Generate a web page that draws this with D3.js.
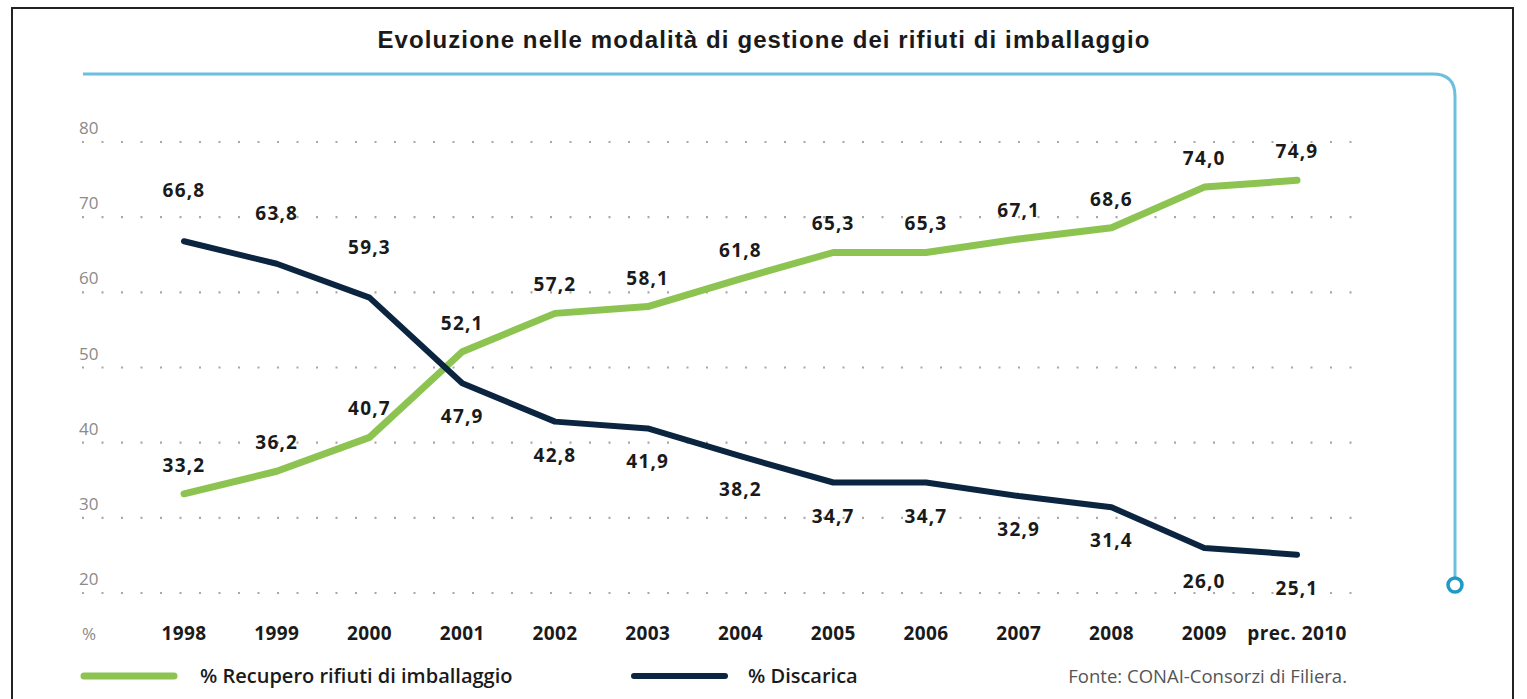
<!DOCTYPE html>
<html>
<head>
<meta charset="utf-8">
<script src="https://cdn.jsdelivr.net/npm/d3@7"></script>
<style>
  body { margin: 0; background: #fff; }
  #chart { width: 1527px; height: 699px; }
  .yTick { font-family: "Open Sans", sans-serif; font-size: 17px; fill: #8a8a8a; }
  .xTick { font-family: "Open Sans", sans-serif; font-size: 19px; font-weight: 700; fill: #1a1a1a; letter-spacing: 0.4px; }
  .valLabel { font-family: "Open Sans", sans-serif; font-size: 19px; font-weight: 700; fill: #1a1a1a; letter-spacing: 1.2px; }
  .legendText { font-family: "Open Sans", sans-serif; font-size: 20px; font-weight: 600; fill: #1a1a1a; }
</style>
</head>
<body>
<div id="chart"></div>
<script>
// data
var years = ["1998", "1999", "2000", "2001", "2002", "2003", "2004", "2005", "2006", "2007", "2008", "2009", "prec. 2010"];
var recupero = [33.2, 36.2, 40.7, 52.1, 57.2, 58.1, 61.8, 65.3, 65.3, 67.1, 68.6, 74.0, 74.9];
var discarica = [66.8, 63.8, 59.3, 47.9, 42.8, 41.9, 38.2, 34.7, 34.7, 32.9, 31.4, 26.0, 25.1];
var yTicks = [20, 30, 40, 50, 60, 70, 80];
var seriesNames = ["% Recupero rifiuti di imballaggio", "% Discarica"];

var fmt = function(v) { return d3.format(".1f")(v).replace(".", ","); };

makePlot();

function makePlot() {
    var svgWidth = 1527;
    var svgHeight = 699;

    var svg = d3.select("#chart")
        .append("svg")
        .attr("width", svgWidth)
        .attr("height", svgHeight);

    // outer frame
    svg.append("rect")
        .attr("x", 12).attr("y", 8)
        .attr("width", 1501).attr("height", 700)
        .attr("fill", "none")
        .attr("stroke", "#222")
        .attr("stroke-width", 2);

    // title
    svg.append("text")
        .attr("x", 764).attr("y", 48)
        .attr("text-anchor", "middle")
        .style("font-family", "Liberation Sans, Arial, sans-serif")
        .style("font-size", "24px")
        .style("font-weight", "700")
        .style("letter-spacing", "1.1px")
        .attr("fill", "#1a1a1a")
        .text("Evoluzione nelle modalità di gestione dei rifiuti di imballaggio");

    // blue decorative frame line
    var r = 22;
    svg.append("path")
        .attr("d", `M83,74 H${1455 - r} Q1455,74 1455,${74 + r} V578`)
        .attr("fill", "none")
        .attr("stroke", "#6cbfdf")
        .attr("stroke-width", 3);
    svg.append("circle")
        .attr("cx", 1455).attr("cy", 585).attr("r", 7)
        .attr("fill", "#fff")
        .attr("stroke", "#1f9ac6")
        .attr("stroke-width", 3.5);

    // scales
    var xScale = d3.scalePoint()
        .domain(years)
        .range([184, 1297]);

    var yScale = d3.scaleLinear()
        .domain([20, 80])
        .range([593, 142]);

    // dotted gridlines
    var gridGroup = svg.append("g");
    yTicks.forEach(function(t) {
        gridGroup.append("line")
            .attr("x1", 82).attr("x2", 1356)
            .attr("y1", yScale(t)).attr("y2", yScale(t))
            .attr("stroke", "#a8a8a8")
            .attr("stroke-width", 2.2)
            .attr("stroke-dasharray", "2,17.5");
        gridGroup.append("text")
            .attr("class", "yTick")
            .attr("x", 79)
            .attr("y", yScale(t) - 8)
            .text(t);
    });

    // x labels
    svg.append("text")
        .attr("class", "yTick")
        .attr("x", 82).attr("y", 640)
        .text("%");

    svg.selectAll(".xTick")
        .data(years)
        .enter()
        .append("text")
        .attr("class", "xTick")
        .attr("x", d => xScale(d))
        .attr("y", 640)
        .attr("text-anchor", "middle")
        .text(d => d);

    // lines
    var line = d3.line()
        .x((d, i) => xScale(years[i]))
        .y(d => yScale(d));

    svg.append("path")
        .datum(recupero)
        .attr("d", line)
        .attr("fill", "none")
        .attr("stroke", "#8dc451")
        .attr("stroke-width", 7)
        .attr("stroke-linecap", "round")
        .attr("stroke-linejoin", "round");

    svg.append("path")
        .datum(discarica)
        .attr("d", line)
        .attr("fill", "none")
        .attr("stroke", "#0b2440")
        .attr("stroke-width", 6)
        .attr("stroke-linecap", "round")
        .attr("stroke-linejoin", "round");

    // value labels
    svg.selectAll(".lblGreen")
        .data(recupero)
        .enter()
        .append("text")
        .attr("class", "valLabel")
        .attr("x", (d, i) => xScale(years[i]))
        .attr("y", d => yScale(d) - 22)
        .attr("text-anchor", "middle")
        .text(d => fmt(d));

    svg.selectAll(".lblDark")
        .data(discarica)
        .enter()
        .append("text")
        .attr("class", "valLabel")
        .attr("x", (d, i) => xScale(years[i]))
        .attr("y", (d, i) => recupero[i] < d ? yScale(d) - 44 : yScale(d) + 40)
        .attr("text-anchor", "middle")
        .text(d => fmt(d));

    // legend
    svg.append("line")
        .attr("x1", 84).attr("x2", 174)
        .attr("y1", 676).attr("y2", 676)
        .attr("stroke", "#8dc451").attr("stroke-width", 7)
        .attr("stroke-linecap", "round");
    svg.append("text")
        .attr("class", "legendText")
        .attr("x", 200).attr("y", 683)
        .text(seriesNames[0]);

    svg.append("line")
        .attr("x1", 634).attr("x2", 725)
        .attr("y1", 676).attr("y2", 676)
        .attr("stroke", "#0b2440").attr("stroke-width", 6)
        .attr("stroke-linecap", "round");
    svg.append("text")
        .attr("class", "legendText")
        .attr("x", 748).attr("y", 683)
        .text(seriesNames[1]);

    svg.append("text")
        .attr("x", 1347).attr("y", 683)
        .attr("text-anchor", "end")
        .style("font-family", "Open Sans, sans-serif")
        .style("font-size", "18.5px")
        .attr("fill", "#555")
        .text("Fonte: CONAI-Consorzi di Filiera.");
}
</script>
</body>
</html>
